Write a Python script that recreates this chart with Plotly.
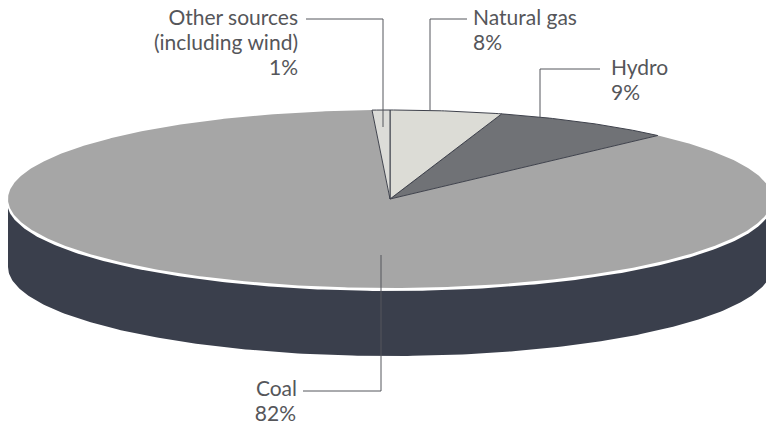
import numpy as np
import plotly.graph_objects as go

# Data
categories = ["Other sources", "Natural gas", "Hydro", "Coal"]
label_values = [1, 8, 9, 82]
# The artwork's slices are foreshortened: sweep of each slice (deg)
drawn_sweep = [2.7, 17.0, 27.5, 312.8]
start_angle = -2.7
slice_colors = ["#dcdcd8", "#dcdcd6", "#707276", "#a6a6a6"]

# Label lines: text, x, y, anchor
label_lines = [
    ("Other sources", 298, 20, "middle left"),
    ("(including wind)", 298, 45, "middle left"),
    ("1%", 298, 70, "middle left"),
    ("Natural gas", 473, 20, "middle right"),
    ("8%", 473, 45, "middle right"),
    ("Hydro", 611, 70, "middle right"),
    ("9%", 611, 95, "middle right"),
    ("Coal", 297, 391, "middle left"),
    ("82%", 296, 416, "middle left"),
]
# Leader lines
leaders = [
    ([306, 383, 383], [19, 19, 127]),
    ([467, 430, 430], [19, 19, 110]),
    ([600, 540, 540], [69, 69, 117]),
    ([303, 381, 381], [391, 391, 255]),
]

# Geometry of the disc (in page pixels)
CX, CY, RX, RY, DEPTH = 390, 199, 382, 89, 68


def ellipse_xy(t_deg, cy=CY, rx=RX, ry=RY):
    t = np.radians(t_deg)
    return CX + rx * np.sin(t), cy - ry * np.cos(t)


fig = go.Figure()

# Dark side wall
t_low = np.linspace(90, 270, 240)
x_bot, y_bot = ellipse_xy(t_low, cy=CY + DEPTH)
x_top, y_top = ellipse_xy(t_low[::-1], cy=CY)
fig.add_trace(go.Scatter(x=np.r_[x_bot, x_top], y=np.r_[y_bot, y_top], mode="lines",
                         fill="toself", fillcolor="#3a3f4c", line=dict(width=0),
                         hoverinfo="skip", showlegend=False))

# White rim
t_all = np.linspace(0, 360, 480)
x_rim, y_rim = ellipse_xy(t_all, cy=CY + 3, rx=RX + 1)
fig.add_trace(go.Scatter(x=x_rim, y=y_rim, mode="lines", fill="toself", fillcolor="#ffffff",
                         line=dict(width=0), hoverinfo="skip", showlegend=False))

# Slices, largest first so the outlined small slices sit on top
edges = start_angle + np.r_[0, np.cumsum(drawn_sweep)]
for i in [3, 2, 1, 0]:
    ts = np.linspace(edges[i], edges[i + 1], max(4, int(drawn_sweep[i] * 2)))
    xs, ys = ellipse_xy(ts)
    outline = dict(width=0) if i == 3 else dict(width=1, color="#3f424c")
    fig.add_trace(go.Scatter(x=np.r_[CX, xs, CX], y=np.r_[CY, ys, CY], mode="lines",
                             fill="toself", fillcolor=slice_colors[i], line=outline,
                             name=f"{categories[i]} {label_values[i]}%",
                             hoverinfo="name", showlegend=False))

# Leader lines
for lx, ly in leaders:
    fig.add_trace(go.Scatter(x=lx, y=ly, mode="lines", line=dict(width=1, color="#55575c"),
                             hoverinfo="skip", showlegend=False))

for text, x, y, pos in label_lines:
    fig.add_trace(go.Scatter(x=[x], y=[y], text=[text], mode="text", textposition=pos,
                             textfont=dict(family="Lato", size=21, color="#55565a"),
                             cliponaxis=False, hoverinfo="skip", showlegend=False))

fig.update_xaxes(range=[0, 766], visible=False, fixedrange=True)
fig.update_yaxes(range=[425, 0], visible=False, fixedrange=True)
fig.update_layout(width=766, height=425, margin=dict(l=0, r=0, t=0, b=0),
                  paper_bgcolor="white", plot_bgcolor="white")
fig.write_html("out.html", config={"displayModeBar": False},
               post_script="document.body.style.margin='0';document.documentElement.style.overflow='hidden';")
